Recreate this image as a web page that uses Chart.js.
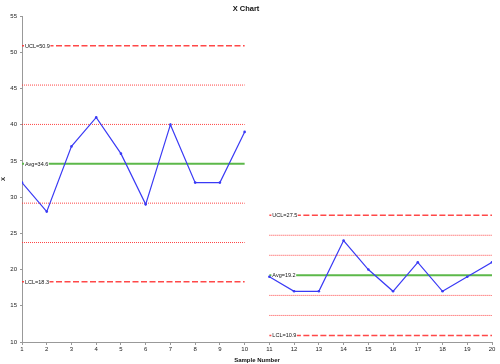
<!DOCTYPE html>
<html>
<head>
<meta charset="utf-8">
<script src="https://cdn.jsdelivr.net/npm/chart.js@4/dist/chart.umd.min.js"></script>
<style>
html,body{margin:0;padding:0;background:#fff;}
#wrap{width:500px;height:364px;position:relative;}
</style>
</head>
<body>
<div id="wrap"><canvas id="c" width="500" height="364"></canvas></div>
<script>
// ---- data ----
const samples1 = [1,2,3,4,5,6,7,8,9,10];
const values1  = [32,28,37,41,36,29,40,32,32,39];
const samples2 = [11,12,13,14,15,16,17,18,19,20];
const values2  = [19,17,17,24,20,17,21,17,19,21];
const ucl1 = 50.9, avg1 = 34.6, lcl1 = 18.3;
const ucl2 = 27.5, avg2 = 19.2, lcl2 = 10.9;
const yTicks = [10,15,20,25,30,35,40,45,50,55];
const xTicks = [1,2,3,4,5,6,7,8,9,10,11,12,13,14,15,16,17,18,19,20];

const pts = (xs, ys) => xs.map((x,i)=>({x:x, y:ys[i]}));
const hline = (xs, y) => [{x:xs[0], y:y},{x:xs[xs.length-1], y:y}];

const RED = 'rgba(255,40,40,0.85)';
const dashedStyle = {borderColor: RED, borderWidth: 1.5, borderDash:[6,2.5]};
const dottedStyle = {borderColor: 'rgba(255,50,50,0.9)', borderWidth: 1, borderDash:[1,1]};
const avgStyle = {borderColor: '#5cb84a', borderWidth: 2, borderDash:[]};

function limitSets(xs, ucl, avg, lcl){
  const s = (ucl-avg)/3;
  return [
    Object.assign({data: hline(xs, ucl)}, dashedStyle),
    Object.assign({data: hline(xs, avg+2*s)}, dottedStyle),
    Object.assign({data: hline(xs, avg+s)}, dottedStyle),
    Object.assign({data: hline(xs, avg)}, avgStyle),
    Object.assign({data: hline(xs, avg-s)}, dottedStyle),
    Object.assign({data: hline(xs, avg-2*s)}, dottedStyle),
    Object.assign({data: hline(xs, lcl)}, dashedStyle),
  ].map(d => Object.assign(d, {pointRadius:0, fill:false, tension:0}));
}

const dataStyle = {borderColor:'#3a3af5', backgroundColor:'#3a3af5', borderWidth:1.2, pointRadius:1.3, pointBorderWidth:0, tension:0, fill:false};

const datasets = [
  Object.assign({data: pts(samples1, values1)}, dataStyle),
  Object.assign({data: pts(samples2, values2)}, dataStyle),
  ...limitSets(samples1, ucl1, avg1, lcl1),
  ...limitSets(samples2, ucl2, avg2, lcl2),
];

const limitLabels = [
  {x: samples1[0], y: ucl1, text: 'UCL=' + ucl1},
  {x: samples1[0], y: avg1, text: 'Avg=' + avg1},
  {x: samples1[0], y: lcl1, text: 'LCL=' + lcl1},
  {x: samples2[0], y: ucl2, text: 'UCL=' + ucl2},
  {x: samples2[0], y: avg2, text: 'Avg=' + avg2},
  {x: samples2[0], y: lcl2, text: 'LCL=' + lcl2},
];

const labelPlugin = {
  id: 'limitLabels',
  afterDatasetDraw(chart, args){
    if (args.index !== 2) return;
    const ctx = chart.ctx;
    const xs = chart.scales.x, ys = chart.scales.y;
    ctx.save();
    ctx.font = '5.5px "Liberation Sans", Arial, sans-serif';
    ctx.textBaseline = 'middle';
    ctx.textAlign = 'left';
    limitLabels.forEach(l => {
      const px = xs.getPixelForValue(l.x) + 3;
      const py = ys.getPixelForValue(l.y);
      const w = ctx.measureText(l.text).width;
      ctx.fillStyle = '#fff';
      ctx.fillRect(px - 1, py - 3.5, w + 1.5, 7);
      ctx.fillStyle = '#111';
      ctx.fillText(l.text, px, py + 0.3);
    });
    ctx.restore();
  }
};

new Chart(document.getElementById('c'), {
  type: 'line',
  data: { datasets },
  options: {
    responsive: false,
    animation: false,
    events: [],
    layout: { padding: { left: 0, right: 8, top: 0, bottom: 0 } },
    plugins: {
      legend: { display: false },
      tooltip: { enabled: false },
      title: {
        display: true, text: 'X Chart', color: '#111',
        font: { family: '"Liberation Sans", Arial, sans-serif', size: 7.5, weight: 'bold' },
        padding: { top: 4, bottom: 3 }
      }
    },
    scales: {
      x: {
        type: 'linear', min: 1, max: 20,
        afterBuildTicks: s => { s.ticks = xTicks.map(v => ({value: v})); },
        afterFit: s => { s.height = 22; },
        grid: { display: true, drawOnChartArea: false, drawTicks: true, tickLength: 3, color: '#999' },
        border: { color: '#999', width: 1 },
        ticks: { color: '#222', padding: 1, maxRotation: 0, autoSkip: false,
                 font: { family: '"Liberation Sans", Arial, sans-serif', size: 6 } },
        title: { display: true, text: 'Sample Number', color: '#111', padding: { top: 0, bottom: 0 },
                 font: { family: '"Liberation Sans", Arial, sans-serif', size: 6, weight: 'bold' } }
      },
      y: {
        min: 10, max: 55,
        afterBuildTicks: s => { s.ticks = yTicks.map(v => ({value: v})); },
        afterFit: s => { s.width = 22; },
        grid: { display: true, drawOnChartArea: false, drawTicks: true, tickLength: 2, color: '#999' },
        border: { color: '#999', width: 1 },
        ticks: { color: '#222', padding: 3,
                 font: { family: '"Liberation Sans", Arial, sans-serif', size: 6 } },
        title: { display: true, text: 'X', color: '#111', padding: { top: 0, bottom: 0 },
                 font: { family: '"Liberation Sans", Arial, sans-serif', size: 6, weight: 'bold' } }
      }
    }
  },
  plugins: [labelPlugin]
});
</script>
</body>
</html>
